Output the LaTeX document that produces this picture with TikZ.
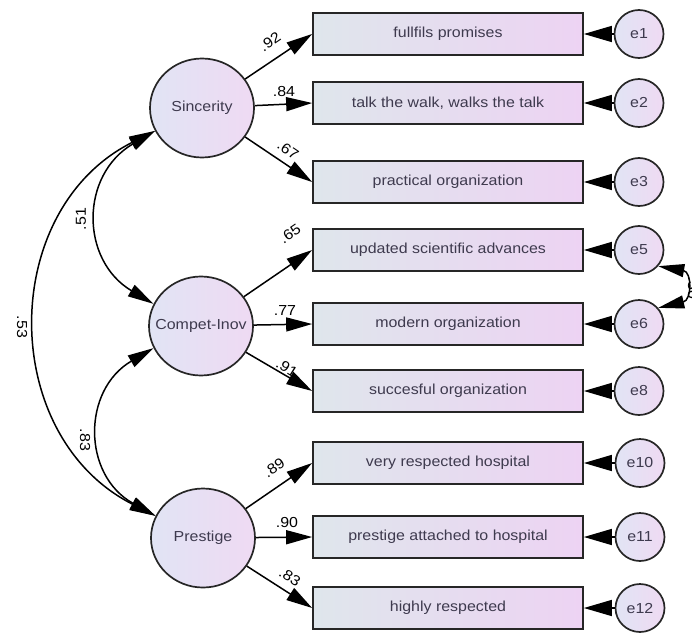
\documentclass[tikz,border=0pt]{standalone}
\usepackage{fontspec}
\setmainfont[FakeStretch=1.1]{Liberation Sans}
\usetikzlibrary{arrows.meta,shapes.geometric}
\definecolor{txt}{HTML}{3E3A4E}
\definecolor{boxL}{HTML}{DFE6EC}
\definecolor{boxR}{HTML}{EDD3F3}
\definecolor{cirL}{HTML}{E1E4F4}
\definecolor{cirR}{HTML}{EFDAF3}
\begin{document}
\begin{tikzpicture}[x=1pt,y=-1pt,
  obs/.style={draw=black!85, line width=1.7pt, minimum width=270pt, minimum height=42pt,
    left color=boxL, right color=boxR, font=\fontsize{14.5}{16}\selectfont, text=txt, inner sep=0pt},
  lat/.style={ellipse, draw=black!85, line width=1.7pt, minimum width=104pt, minimum height=99pt,
    left color=cirL, right color=cirR, font=\fontsize{14.5}{16}\selectfont, text=txt, inner sep=0pt},
  err/.style={ellipse, draw=black!85, line width=1.7pt, minimum width=49pt, minimum height=48pt,
    left color=cirL, right color=cirR, font=\fontsize{14.5}{16}\selectfont, text=txt, inner sep=0pt},
  load/.style={-{Triangle[length=26pt,width=14pt]}, line width=1.5pt},
  erra/.style={-{Triangle[length=28pt,width=16pt]}, line width=1.5pt},
  cov/.style={{Triangle[length=26pt,width=13pt]}-{Triangle[length=26pt,width=13pt]}, line width=1.5pt},
  lab/.style={font=\fontsize{14.5}{16}\selectfont, inner sep=0pt}]
\useasboundingbox (0,0) rectangle (692,634);
% latent variables
\node[lat] (S) at (202,108) {\makebox[0pt]{Sincerity}};
\node[lat] (C) at (201,326) {\makebox[0pt]{Compet-Inov}};
\node[lat] (P) at (203,538) {\makebox[0pt]{Prestige}};
% observed
\node[obs] (b1) at (448,34) {fullfils promises};
\node[obs] (b2) at (448,103) {talk the walk, walks the talk};
\node[obs] (b3) at (448,182) {practical organization};
\node[obs] (b5) at (448,250) {updated scientific advances};
\node[obs] (b6) at (448,324) {modern organization};
\node[obs] (b8) at (448,391) {succesful organization};
\node[obs] (b10) at (448,463) {very respected hospital};
\node[obs] (b11) at (448,537) {prestige attached to hospital};
\node[obs] (b12) at (448,608) {highly respected};
% errors
\node[err] (e1) at (639,34) {e1};
\node[err] (e2) at (639,103) {e2};
\node[err] (e3) at (639,182) {e3};
\node[err] (e5) at (639,250) {e5};
\node[err] (e6) at (639,324) {e6};
\node[err] (e8) at (639,391) {e8};
\node[err] (e10) at (640,463) {e10};
\node[err] (e11) at (640,537) {e11};
\node[err] (e12) at (640,608) {e12};
% loadings
\draw[load] (S) -- (b1.west);
\draw[load] (S) -- (b2.west);
\draw[load] (S) -- (b3.west);
\draw[load] (C) -- (b5.west);
\draw[load] (C) -- (b6.west);
\draw[load] (C) -- (b8.west);
\draw[load] (P) -- (b10.west);
\draw[load] (P) -- (b11.west);
\draw[load] (P) -- (b12.west);
% error arrows
\foreach \e/\b in {e1/b1,e2/b2,e3/b3,e5/b5,e6/b6,e8/b8,e10/b10,e11/b11,e12/b12}
  \draw[erra] (\e) -- (\b.east);
% loading labels
\node[lab, rotate=34] (l1) at (270,42) {.92};
\node[lab] (l2) at (284,92) {.84};
\node[lab, rotate=-34] (l3) at (288,150) {.67};
\node[lab, rotate=34] (l5) at (290,234) {.65};
\node[lab] (l6) at (285,311) {.77};
\node[lab, rotate=-32] (l8) at (287,368) {.91};
\node[lab, rotate=34] (l10) at (274,468) {.89};
\node[lab] (l11) at (287,522) {.90};
\node[lab, rotate=-32] (l12) at (290,577) {.83};
% covariances
\draw[cov] (S.206) .. controls (80,175) and (80,260) .. (C.155);
\draw[cov] (C.205) .. controls (82,390) and (82,475) .. (P.155);
\draw[cov] (S.206) .. controls (-2,210) and (-2,436) .. (P.155);
\draw[cov] (e5.-40) .. controls (692,272) and (692,300) .. (e6.40);
\node[lab, rotate=90] (c1) at (81,219) {.51};
\node[lab, rotate=-90] (c2) at (22,327) {.53};
\node[lab, rotate=-90] (c3) at (85,440) {.83};
\node[lab, rotate=-90] (c4) at (693,288) {.30};
\end{tikzpicture}
\end{document}
